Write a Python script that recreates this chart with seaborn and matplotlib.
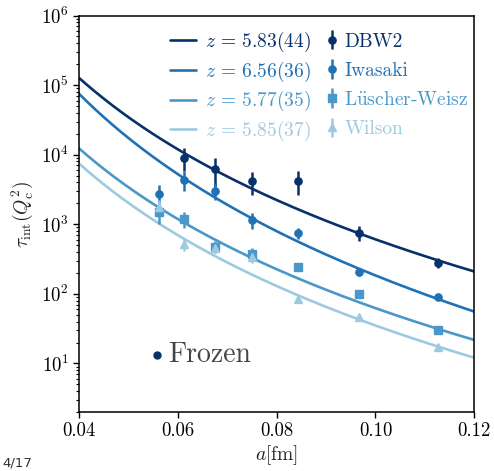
import numpy as np
import pandas as pd
import matplotlib
matplotlib.use("Agg")
import matplotlib.pyplot as plt
import seaborn as sns

# ── Data
actions = ["DBW2", "Iwasaki", "Lüscher-Weisz", "Wilson"]
action_labels = ["DBW2", "Iwasaki", r"L$\ddot{\rm u}$scher-Weisz", "Wilson"]
z_labels = ["5.83(44)", "6.56(36)", "5.77(35)", "5.85(37)"]
z_values = [5.83, 6.56, 5.77, 5.85]
tau_at_012 = [210, 55.7, 21.8, 12.1]   # fit curve value at a = 0.12 fm
colors = ["#08306b", "#2171b5", "#4a98c9", "#9ecae1"]
markers = ["o", "o", "s", "^"]

a_dbw2 = [0.0613, 0.0676, 0.0751, 0.0844, 0.0966, 0.1126]
tau_dbw2 = [9100, 6140, 4160, 4250, 760, 282]
err_dbw2 = [3200, 2900, 1500, 1600, 175, 48]

a_iwa = [0.0562, 0.0613, 0.0676, 0.0751, 0.0844, 0.0966, 0.1126]
tau_iwa = [2740, 4400, 3060, 1157, 742, 208, 89]
err_iwa = [880, 1400, 800, 300, 130, 25, 8]

a_lw = [0.0562, 0.0613, 0.0676, 0.0751, 0.0844, 0.0966, 0.1126]
tau_lw = [1490, 1197, 478, 374, 245, 100, 30]
err_lw = [470, 310, 95, 80, 25, 8, 2]

a_wil = [0.0562, 0.0613, 0.0676, 0.0751, 0.0844, 0.0966, 0.1126]
tau_wil = [1800, 520, 450, 335, 84, 46, 17.3]
err_wil = [400, 100, 60, 60, 5, 3, 1]

points = [(a_dbw2, tau_dbw2, err_dbw2), (a_iwa, tau_iwa, err_iwa),
          (a_lw, tau_lw, err_lw), (a_wil, tau_wil, err_wil)]

# ── Style
sns.set_theme(style="ticks")
plt.rcParams["font.family"] = ["cmr10", "DejaVu Serif"]
plt.rcParams["mathtext.fontset"] = "cm"
plt.rcParams["axes.formatter.use_mathtext"] = True
plt.rcParams["axes.edgecolor"] = "black"
plt.rcParams["axes.linewidth"] = 1.1
plt.rcParams["xtick.color"] = "black"
plt.rcParams["ytick.color"] = "black"
plt.rcParams["text.color"] = "#222222"

fig = plt.figure(figsize=(4.94, 4.71), dpi=100)
ax = fig.add_axes([0.160, 0.125, 0.800, 0.842])

# ── Fit curves tau = C * a^-z
a_grid = np.linspace(0.04, 0.12, 200)
rows = []
for name, z, t12 in zip(actions, z_values, tau_at_012):
    for a in a_grid:
        rows.append({"a": a, "tau": t12 * (a / 0.12) ** (-z), "fit": name})
df_fit = pd.DataFrame(rows)
sns.lineplot(data=df_fit, x="a", y="tau", hue="fit", hue_order=actions,
             palette=dict(zip(actions, colors)), linewidth=1.9, legend=False, ax=ax)
fit_lines = ax.get_lines()[:4]

# ── Data points
containers = []
for (a, t, e), c, m in zip(points, colors, markers):
    ms = 5.5 if m != "o" else 5.2
    cont = ax.errorbar(a, t, yerr=e, fmt=m, color=c, ms=ms, elinewidth=1.8,
                       capsize=0, zorder=3)
    containers.append(cont)

ax.set_yscale("log")
ax.set_xlim(0.04, 0.12)
ax.set_ylim(2, 1e6)
ax.set_xticks([0.04, 0.06, 0.08, 0.10, 0.12])
ax.set_xticklabels(["0.04", "0.06", "0.08", "0.10", "0.12"])
ax.tick_params(axis="both", which="major", labelsize=13.5, length=4, width=1, direction="out")
ax.tick_params(axis="y", which="minor", length=2.5, width=0.8, direction="out")
ax.set_xlabel(r"$a[\mathrm{fm}]$", fontsize=14, labelpad=2)
ax.set_ylabel(r"$\tau_{\mathrm{int}}(Q_{\mathrm{c}}^2)$", fontsize=14, labelpad=4)

# ── Legends
leg1 = ax.legend(fit_lines, [rf"$z\,=\,{s}$" for s in z_labels], loc="upper left",
                 bbox_to_anchor=(0.23, 0.964), frameon=False, fontsize=14,
                 borderpad=0, borderaxespad=0, handlelength=1.35,
                 handletextpad=0.45, labelspacing=0.29)
for txt, c in zip(leg1.get_texts(), colors):
    txt.set_color(c)
ax.add_artist(leg1)

leg2 = ax.legend(containers, action_labels, loc="upper left",
                 bbox_to_anchor=(0.622, 0.957), frameon=False, fontsize=14,
                 borderpad=0, borderaxespad=0, handlelength=0.7,
                 handletextpad=0.3, labelspacing=0.58)
for txt, c in zip(leg2.get_texts(), colors):
    txt.set_color(c)

# ── "Frozen" annotation
ax.plot([0.197], [0.144], "o", color="#08306b", ms=5, transform=ax.transAxes)
ax.text(0.226, 0.144, "Frozen", transform=ax.transAxes, fontsize=20,
        color="#444444", va="center", ha="left")

fig.text(0.004, 0.004, "4/17", fontsize=9.5, color="#333333", va="bottom", ha="left",
         family="DejaVu Sans")

fig.savefig("out.png", dpi=100)
